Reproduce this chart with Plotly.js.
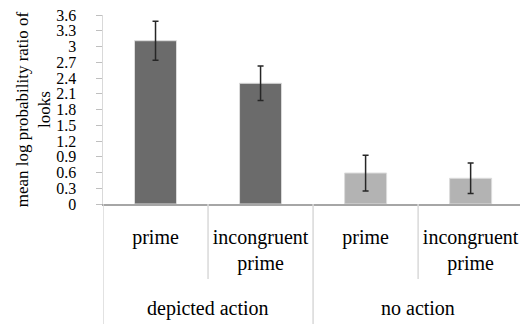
<!DOCTYPE html>
<html>
<head>
<meta charset="utf-8">
<script src="https://cdn.plot.ly/plotly-3.0.1.min.js"></script>
<style>html,body{margin:0;padding:0;background:#fff;}#chart{width:520px;height:324px;}</style>
</head>
<body>
<div id="chart"></div>
<script>
// Data
const categoryIds = ["da_prime", "da_incongruent", "na_prime", "na_incongruent"];
const categoryLabels = ["prime", "incongruent<br>prime", "prime", "incongruent<br>prime"];
const groupLabels = ["depicted action", "no action"];
const meanValues = [3.11, 2.30, 0.59, 0.49];
const errorValues = [0.37, 0.33, 0.34, 0.29];
const barColors = ["#6b6b6b", "#6b6b6b", "#b3b3b3", "#b3b3b3"];
const yTickVals = [0, 0.3, 0.6, 0.9, 1.2, 1.5, 1.8, 2.1, 2.4, 2.7, 3, 3.3, 3.6];
const yTickText = ["0", "0.3", "0.6", "0.9", "1.2", "1.5", "1.8", "2.1", "2.4", "2.7", "3", "3.3", "3.6"];

const font = "Liberation Serif";

const trace = {
  type: "bar",
  x: categoryIds,
  y: meanValues,
  width: 0.4,
  marker: {color: barColors, line: {color: "#dcdcdc", width: 1}},
  error_y: {type: "data", array: errorValues, visible: true, color: "#262626", thickness: 1.5, width: 3},
  hoverinfo: "none"
};

const bottomPaper = -(120 / 189);
const innerPaper = -(75 / 189);

const shapes = [];
// group dividers (full height of label area)
[-0.5, 1.5].forEach(x => shapes.push({type: "line", xref: "x", yref: "paper", x0: x, x1: x, y0: 0, y1: bottomPaper, line: {color: "#d9d9d9", width: 1.5}}));
// inner dividers (sub-label area only)
[0.5, 2.5].forEach(x => shapes.push({type: "line", xref: "x", yref: "paper", x0: x, x1: x, y0: 0, y1: innerPaper, line: {color: "#d9d9d9", width: 1.5}}));

const annotations = groupLabels.map((t, i) => ({
  text: t, xref: "x", yref: "paper", x: 0.5 + 2 * i, y: -(104 / 189),
  xanchor: "center", yanchor: "middle", showarrow: false,
  font: {family: font, size: 20, color: "#000"}
}));

const layout = {
  width: 520, height: 324,
  margin: {l: 103, r: 0, t: 15, b: 120, pad: 0},
  paper_bgcolor: "#fff", plot_bgcolor: "#fff",
  font: {family: font, color: "#000"},
  showlegend: false,
  bargap: 0.6,
  xaxis: {
    type: "category",
    range: [-0.5, 3.47],
    tickvals: categoryIds,
    ticktext: categoryLabels,
    ticks: "",
    showgrid: false,
    zeroline: false,
    showline: true, linecolor: "#a6a6a6", linewidth: 1.5,
    tickfont: {family: font, size: 20, color: "#000"},
    ticklabelstandoff: 14,
    fixedrange: true
  },
  yaxis: {
    range: [0, 3.6],
    tickvals: yTickVals,
    ticktext: yTickText,
    ticks: "outside", ticklen: 6, tickcolor: "#bfbfbf", tickwidth: 1,
    showgrid: false, zeroline: false,
    showline: true, linecolor: "#d9d9d9", linewidth: 1.5,
    tickfont: {family: font, size: 16, color: "#000"},
    ticklabelstandoff: 16,
    title: {text: "mean log probability ratio of<br>looks", font: {family: font, size: 17, color: "#000"}},
    automargin: false,
    fixedrange: true
  },
  shapes: shapes,
  annotations: annotations
};

Plotly.newPlot("chart", [trace], layout, {staticPlot: true, displayModeBar: false});
</script>
</body>
</html>
